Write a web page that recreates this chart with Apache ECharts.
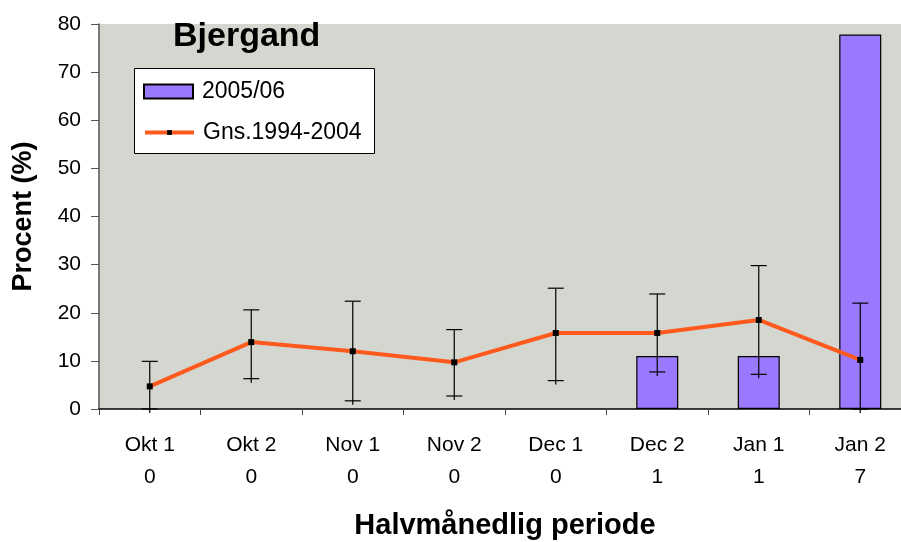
<!DOCTYPE html>
<html>
<head>
<meta charset="utf-8">
<script src="https://cdn.jsdelivr.net/npm/echarts@6/dist/echarts.min.js"></script>
<style>html,body{margin:0;padding:0;background:#fff;}#c{width:901px;height:542px;}</style>
</head>
<body>
<div id="c"></div>
<script>
const categories = ['Okt 1', 'Okt 2', 'Nov 1', 'Nov 2', 'Dec 1', 'Dec 2', 'Jan 1', 'Jan 2'];
const counts = ['0', '0', '0', '0', '0', '1', '1', '7'];
const bars2005 = [null, null, null, null, null, 11, 11, 77.8];
const avg9404 = [4.7, 13.9, 12.0, 9.7, 15.8, 15.8, 18.5, 10.2];
const errLow = [0, 6.3, 1.7, 2.7, 5.9, 7.7, 7.2, 0];
const errHigh = [9.9, 20.6, 22.4, 16.5, 25.1, 23.9, 29.8, 22.0];
const yTicks = [0, 10, 20, 30, 40, 50, 60, 70, 80];

const FONT = '"Liberation Sans", Arial, sans-serif';
const chart = echarts.init(document.getElementById('c'));
const errData = categories.map((c, i) => [i, errLow[i], errHigh[i]]);
const legendText = { fontFamily: FONT, fontSize: 23, color: '#000', padding: [0, 0, 0, 4] };

chart.setOption({
  animation: false,
  textStyle: { fontFamily: FONT },
  title: {
    text: 'Bjergand', left: 168, top: 15,
    textStyle: { fontFamily: FONT, fontWeight: 'bold', fontSize: 34, color: '#000' }
  },
  graphic: [{
    type: 'rect', left: 134, top: 68, z: 3,
    shape: { width: 240, height: 85 },
    style: { fill: '#fff', stroke: '#000', lineWidth: 1 }
  }],
  legend: [
    {
      left: 143, top: 80, padding: 0, itemWidth: 49, itemHeight: 14,
      icon: 'rect', textStyle: legendText, data: ['2005/06']
    },
    {
      left: 143, top: 121, padding: 0, itemWidth: 49, itemHeight: 6,
      textStyle: legendText, data: ['Gns.1994-2004'],
      lineStyle: { width: 4 }
    }
  ],
  grid: {
    left: 99, top: 24, right: -10, bottom: 133,
    outerBoundsMode: 'none', containLabel: false,
    show: true, backgroundColor: '#D4D6D0', borderWidth: 0
  },
  xAxis: {
    type: 'category', data: categories,
    name: 'Halvmånedlig periode', nameLocation: 'middle', nameGap: 102,
    nameTextStyle: { fontFamily: FONT, fontWeight: 'bold', fontSize: 29, color: '#000' },
    axisLine: { lineStyle: { color: '#000', width: 1.5 } },
    axisTick: { show: true, length: 6, lineStyle: { color: '#444' } },
    axisLabel: {
      margin: 20, fontSize: 21, color: '#000', lineHeight: 32, fontFamily: FONT,
      formatter: function (v, i) { return v + '\n' + counts[i]; }
    }
  },
  yAxis: {
    type: 'value', min: 0, max: 80, interval: 10,
    name: 'Procent (%)', nameLocation: 'middle', nameGap: 62, nameRotate: 90,
    nameTextStyle: { fontFamily: FONT, fontWeight: 'bold', fontSize: 27, color: '#000' },
    axisLine: { show: true, lineStyle: { color: '#555', width: 1.5 } },
    axisTick: { show: true, length: 8, lineStyle: { color: '#555' } },
    splitLine: { show: false },
    axisLabel: {
      margin: 18, fontSize: 21, color: '#000', fontFamily: FONT,
      formatter: function (v) { return yTicks.indexOf(v) >= 0 ? String(v) : ''; }
    }
  },
  series: [
    {
      name: '2005/06', type: 'bar', data: bars2005, barWidth: 42, z: 2,
      itemStyle: { color: '#9A79FF', borderColor: '#000', borderWidth: 1.2 }
    },
    {
      name: 'errors', type: 'custom', data: errData, z: 3, clip: false,
      renderItem: function (params, api) {
        const x = api.value(0);
        const lo = api.coord([x, api.value(1)]);
        const hi = api.coord([x, api.value(2)]);
        const hw = 8;
        const st = { stroke: '#000', lineWidth: 1.2 };
        return {
          type: 'group',
          children: [
            { type: 'line', shape: { x1: lo[0], y1: lo[1] + 4, x2: hi[0], y2: hi[1] }, style: st },
            { type: 'line', shape: { x1: hi[0] - hw, y1: hi[1], x2: hi[0] + hw, y2: hi[1] }, style: st },
            { type: 'line', shape: { x1: lo[0] - hw, y1: lo[1], x2: lo[0] + hw, y2: lo[1] }, style: st }
          ]
        };
      }
    },
    {
      name: 'Gns.1994-2004', type: 'line', data: avg9404, z: 4,
      symbol: 'rect', symbolSize: 6, showSymbol: true,
      lineStyle: { color: '#FF5A1E', width: 4 },
      itemStyle: { color: '#000' }
    }
  ]
});
</script>
</body>
</html>
